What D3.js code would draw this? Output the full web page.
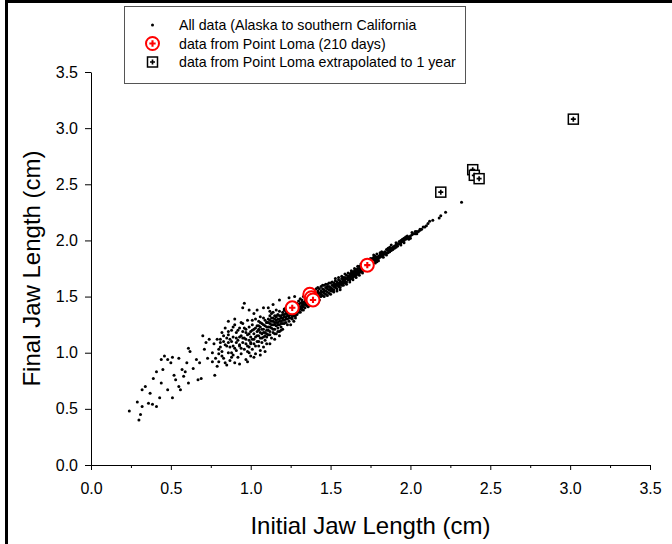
<!DOCTYPE html>
<html>
<head>
<meta charset="utf-8">
<script src="https://cdn.jsdelivr.net/npm/d3@7"></script>
<style>
  html, body { margin: 0; padding: 0; background: #fff; }
  svg { display: block; font-family: Arial, "Liberation Sans", sans-serif; }
</style>
</head>
<body>
<div id="chart"></div>
<script>
// Data: all data (Alaska to southern California), [initial, final] jaw length in cm
const allData = [
  [0.24,0.48],[0.30,0.40],[0.31,0.45],[0.32,0.52],[0.29,0.56],[0.36,0.55],[0.385,0.54],[0.41,0.52],
  [0.32,0.67],[0.34,0.70],[0.37,0.64],[0.39,0.77],[0.41,0.83],[0.43,0.60],[0.44,0.73],[0.45,0.85],
  [0.44,0.94],[0.46,0.97],[0.48,0.94],[0.50,0.91],[0.51,0.60],[0.48,0.67],[0.52,0.80],[0.53,0.76],
  [0.55,0.70],[0.56,0.67],[0.57,0.85],[0.55,0.95],[0.51,0.96],[0.58,0.79],[0.59,0.83],[0.61,0.73],
  [0.60,0.91],[0.62,1.01],[0.61,1.04],[0.64,0.86],[0.66,0.94],[0.68,0.91],[0.67,0.76],[0.69,0.77],
  [0.70,1.15],[0.72,1.09],[0.71,1.03],[0.73,0.95],[0.76,0.92],[0.775,0.80],[0.79,0.88],[0.74,1.12],
  [0.80,1.03],[0.81,1.09],[0.82,0.97],[0.83,1.15],[0.85,1.06],[0.86,1.19],[0.88,1.00],[0.89,1.23],
  [0.91,1.13],[0.93,1.07],[0.94,1.27],[0.96,1.44],[0.99,1.38],[0.97,1.18],[1.00,1.09],[1.01,1.29],
  [1.05,1.21],[1.06,1.32],[1.08,1.40],[1.10,1.27],[1.12,1.37],[1.14,1.43],[1.16,1.32],[1.18,1.47],
  [1.21,1.38],[1.24,1.49],[1.275,1.50],
  [0.80,0.92],[0.81,1.12],[0.82,1.01],[0.82,1.18],[0.83,0.95],[0.84,1.07],[0.84,1.22],[0.85,0.89],
  [0.85,1.13],[0.86,1.00],[0.86,1.16],[0.87,1.05],[0.87,0.93],[0.88,1.20],[0.88,1.10],[0.89,0.98],
  [0.89,1.14],[0.90,1.04],[0.90,1.25],[0.90,0.91],
  [0.91,1.18],[0.91,1.02],[0.92,1.11],[0.92,0.96],[0.93,1.22],[0.93,1.06],[0.94,1.15],[0.94,0.99],
  [0.95,1.09],[0.95,1.26],[0.95,1.19],[0.96,1.03],[0.96,1.13],[0.97,0.94],[0.97,1.21],[0.97,1.08],
  [0.98,1.16],[0.98,1.01],[0.98,1.29],[0.99,1.11],[0.99,1.05],[0.99,1.23],[1.00,1.14],[1.00,0.97],
  [1.00,1.19],[1.00,1.08],
  [1.01,1.12],[1.01,1.25],[1.01,1.03],[1.02,1.17],[1.02,1.21],[1.02,1.08],[1.03,1.14],[1.03,1.30],
  [1.03,0.99],[1.04,1.19],[1.04,1.10],[1.04,1.24],[1.05,1.15],[1.05,1.06],[1.05,1.28],[1.05,1.20],
  [1.06,1.13],[1.06,1.23],[1.06,1.02],[1.07,1.17],[1.07,1.26],[1.07,1.09],[1.08,1.21],[1.08,1.14],
  [1.08,1.31],[1.08,1.05],[1.09,1.18],[1.09,1.24],[1.09,1.11],[1.10,1.20],[1.10,1.27],[1.10,1.14],
  [1.10,1.08],
  [1.11,1.23],[1.11,1.30],[1.11,1.16],[1.12,1.26],[1.12,1.19],[1.12,1.33],[1.13,1.22],[1.13,1.28],
  [1.13,1.13],[1.14,1.25],[1.14,1.31],[1.14,1.18],[1.14,1.36],[1.15,1.27],[1.15,1.21],[1.15,1.33],
  [1.16,1.24],[1.16,1.29],[1.16,1.17],[1.17,1.27],[1.17,1.34],[1.17,1.22],[1.18,1.30],[1.18,1.25],
  [1.18,1.37],[1.18,1.19],[1.19,1.28],[1.19,1.33],[1.19,1.23],[1.20,1.31],[1.20,1.26],[1.20,1.36],
  [1.20,1.21],
  [1.21,1.29],[1.21,1.34],[1.21,1.39],[1.22,1.32],[1.22,1.27],[1.22,1.37],[1.23,1.35],[1.23,1.30],
  [1.23,1.41],[1.24,1.33],[1.24,1.38],[1.24,1.28],[1.25,1.36],[1.25,1.31],[1.25,1.42],[1.26,1.34],
  [1.26,1.39],[1.26,1.30],[1.27,1.37],[1.27,1.43],[1.27,1.33],[1.28,1.40],[1.28,1.35],[1.28,1.31],
  [1.29,1.38],[1.29,1.44],[1.29,1.34],[1.30,1.41],[1.30,1.36],[1.30,1.46],
  [1.31,1.39],[1.31,1.44],[1.31,1.48],[1.32,1.42],[1.32,1.47],[1.32,1.38],[1.33,1.45],[1.33,1.41],
  [1.33,1.50],[1.34,1.43],[1.34,1.48],[1.34,1.40],[1.35,1.46],[1.35,1.51],[1.35,1.42],[1.36,1.45],
  [1.36,1.49],[1.36,1.43],[1.37,1.47],[1.37,1.44],[1.37,1.53],[1.38,1.49],[1.38,1.45],[1.39,1.51],
  [1.39,1.47],[1.39,1.44],[1.40,1.50],[1.40,1.54],[1.40,1.46],
  [1.41,1.49],[1.41,1.53],[1.41,1.57],[1.42,1.51],[1.42,1.55],[1.42,1.48],[1.43,1.53],[1.43,1.57],
  [1.43,1.50],[1.44,1.55],[1.44,1.52],[1.44,1.59],[1.45,1.54],[1.45,1.57],[1.45,1.51],[1.46,1.56],
  [1.46,1.53],[1.46,1.60],[1.47,1.55],[1.47,1.58],[1.47,1.52],[1.48,1.57],[1.48,1.54],[1.48,1.61],
  [1.49,1.56],[1.49,1.59],[1.49,1.53],[1.50,1.58],[1.50,1.55],[1.50,1.62],
  [1.51,1.57],[1.51,1.60],[1.51,1.55],[1.52,1.59],[1.52,1.62],[1.52,1.56],[1.53,1.58],[1.53,1.61],
  [1.53,1.64],[1.54,1.60],[1.54,1.57],[1.54,1.63],[1.55,1.62],[1.55,1.59],[1.55,1.65],[1.56,1.61],
  [1.56,1.64],[1.56,1.58],[1.57,1.63],[1.57,1.66],[1.57,1.60],[1.58,1.64],[1.58,1.62],[1.58,1.67],
  [1.59,1.65],[1.59,1.62],[1.60,1.66],[1.60,1.63],[1.60,1.69],
  [1.61,1.65],[1.61,1.68],[1.62,1.67],[1.62,1.70],[1.62,1.65],[1.63,1.68],[1.63,1.71],[1.64,1.69],
  [1.64,1.67],[1.64,1.72],[1.65,1.70],[1.65,1.73],[1.66,1.71],[1.66,1.69],[1.66,1.74],[1.67,1.72],
  [1.67,1.75],[1.68,1.73],[1.68,1.71],[1.68,1.77],[1.69,1.74],[1.69,1.76],[1.70,1.75],[1.70,1.73],
  [1.70,1.78],
  [1.71,1.76],[1.71,1.79],[1.72,1.77],[1.72,1.80],[1.73,1.78],[1.73,1.76],[1.74,1.80],[1.74,1.82],
  [1.75,1.79],[1.75,1.81],[1.76,1.82],[1.76,1.80],[1.77,1.83],[1.77,1.85],[1.78,1.82],[1.78,1.84],
  [1.79,1.85],[1.79,1.83],[1.80,1.86],[1.80,1.84],
  [1.81,1.87],[1.81,1.85],[1.82,1.88],[1.82,1.86],[1.83,1.89],[1.83,1.87],[1.84,1.90],[1.85,1.89],
  [1.85,1.92],[1.86,1.91],[1.86,1.89],[1.87,1.92],[1.87,1.94],[1.88,1.93],[1.88,1.91],[1.89,1.94],
  [1.90,1.95],[1.90,1.93],
  [1.91,1.96],[1.91,1.94],[1.92,1.97],[1.93,1.97],[1.93,1.99],[1.94,1.98],[1.95,1.99],[1.95,2.01],
  [1.96,2.00],[1.97,2.01],[1.97,2.03],[1.98,2.02],[1.99,2.03],[2.00,2.04],[2.00,2.02],
  [2.01,2.05],[2.02,2.06],[2.03,2.06],[2.04,2.08],[2.05,2.08],[2.06,2.10],[2.07,2.10],[2.08,2.12],
  [2.10,2.13],[2.11,2.15],[2.12,2.17],[2.14,2.18],
  [2.18,2.20],[2.19,2.22],[2.22,2.25],[2.32,2.34],
  [1.30,1.39],[1.32,1.44],[1.34,1.46],[1.36,1.47],[1.38,1.47],[1.40,1.48],[1.42,1.53],[1.44,1.54],
  [1.46,1.55],[1.48,1.59],[1.50,1.57],[1.52,1.60],[1.53,1.59],[1.54,1.61],[1.55,1.60],[1.56,1.62],
  [1.57,1.62],[1.58,1.65],[1.59,1.63],[1.59,1.67],[1.61,1.67],[1.62,1.68],[1.63,1.66],[1.63,1.70],
  [1.64,1.70],[1.65,1.68],[1.65,1.71],[1.66,1.72],[1.67,1.70],[1.67,1.73],[1.68,1.75],[1.69,1.72],
  [1.71,1.74],[1.72,1.78],[1.73,1.81],[1.75,1.77],[1.76,1.84],[1.78,1.86],[1.79,1.81],[1.81,1.89],
  [1.84,1.88],[1.86,1.93],[1.89,1.92],[1.92,1.95],[1.94,2.00],[1.96,2.02],[1.98,2.04],[1.99,2.01],
  [2.03,2.08],[2.06,2.09],[2.09,2.12],
  [1.12,1.29],[1.15,1.25],[1.17,1.30],[1.19,1.26],[1.22,1.35],[1.24,1.36],[1.26,1.37],[1.28,1.38],
  [1.13,1.35],[1.16,1.38],[1.23,1.25],[1.27,1.28],
  [1.02,0.96],[1.06,0.98],[1.09,1.01],[0.93,0.90],[0.98,0.92],[1.12,1.08],[1.15,1.12],[1.18,1.15],
  [1.25,1.25],[0.95,1.40],[1.02,1.35],[1.11,1.40],[1.04,1.38],[0.90,1.30],[0.86,1.28],
  [0.76,1.00],[0.77,1.08],[0.78,0.95],[0.79,1.12],[0.80,0.99],[0.81,1.05],[0.83,1.10],[0.84,0.91],
  [0.86,1.09],[0.87,1.12],[0.88,0.96],[0.89,1.06],[0.91,1.09],[0.92,1.20],[0.93,1.14],[0.94,1.04],
  [0.95,1.13],[0.96,1.22],[0.97,1.12],[0.98,1.06],[0.99,1.17],[0.99,1.00],
  [1.01,1.20],[1.02,1.12],[1.03,1.22],[1.03,1.06],[1.04,1.15],[1.05,1.24],[1.05,1.10],[1.06,1.18],
  [1.06,1.27],[1.07,1.13],[1.07,1.21],[1.08,1.18],[1.08,1.25],[1.09,1.15],[1.09,1.29],[1.10,1.23],
  [1.10,1.17],[1.11,1.20],[1.11,1.27],[1.12,1.23],[1.12,1.16],[1.13,1.25],[1.13,1.31],[1.14,1.21],
  [1.14,1.28],[1.15,1.30],[1.15,1.17],[1.16,1.27],[1.16,1.33],[1.17,1.25],[1.17,1.19],[1.18,1.28],
  [1.18,1.33],[1.19,1.31],[1.19,1.20],[1.20,1.29],[1.20,1.34],
  [1.21,1.32],[1.21,1.26],[1.22,1.30],[1.22,1.40],[1.23,1.33],[1.23,1.38],[1.24,1.31],[1.24,1.41],
  [1.25,1.34],[1.25,1.39],[1.26,1.32],[1.26,1.42],[1.27,1.35],[1.27,1.40],[1.28,1.33],[1.28,1.43],
  [1.29,1.36],[1.29,1.41],[1.30,1.38],[1.30,1.43],[1.31,1.41],[1.31,1.36],[1.32,1.40],[1.32,1.45],
  [1.33,1.43],[1.33,1.38],[1.34,1.45],[1.34,1.50],[1.35,1.44],[1.35,1.48],[1.36,1.41],[1.36,1.51],
  [1.37,1.42],[1.37,1.49],[1.38,1.43],[1.38,1.52],[1.39,1.49],[1.39,1.54],[1.40,1.44],[1.40,1.52],
  [1.41,1.46],[1.42,1.58],[1.43,1.47],[1.44,1.50],[1.45,1.60],[1.46,1.50],[1.47,1.61],[1.48,1.51],
  [1.49,1.62],[1.50,1.52],[1.51,1.63],[1.52,1.54],[1.53,1.66],[1.54,1.55],[1.55,1.67],[1.56,1.56],
  [1.57,1.68],[1.58,1.60],[1.59,1.70],[1.60,1.61],[1.61,1.71],[1.62,1.63],[1.63,1.73],[1.64,1.65],
  [1.65,1.75],[1.66,1.67],[1.67,1.77],[1.68,1.69],[1.69,1.79],[1.70,1.71],[1.71,1.81],[1.72,1.74],
  [1.73,1.83],[1.74,1.77],[1.75,1.84],[1.76,1.78],[1.77,1.87],[1.78,1.80],[1.79,1.88],[1.80,1.82],
  [1.82,1.90],[1.83,1.85],[1.85,1.87],[1.87,1.90],[1.88,1.96],[1.91,1.98],[1.94,1.96],[1.96,1.98],
  [2.01,2.07],[2.04,2.06]
];

// Point Loma, 210 days
const lomaInitial = [1.26, 1.37, 1.38, 1.39, 1.73];
const lomaFinal   = [1.40, 1.52, 1.49, 1.47, 1.78];

// Point Loma extrapolated to 1 year
const yearInitial = [2.19, 2.39, 2.40, 2.43, 3.02];
const yearFinal   = [2.43, 2.63, 2.58, 2.55, 3.08];

const majorTicks = [0, 0.5, 1, 1.5, 2, 2.5, 3, 3.5];
const minorTicks = [0.25, 0.75, 1.25, 1.75, 2.25, 2.75, 3.25];

const legendLabels = [
  "All data (Alaska to southern California",
  "data from Point Loma (210 days)",
  "data from Point Loma extrapolated to 1 year"
];

const width = 672;
const height = 544;
const margin = { top: 72, right: 22, bottom: 79, left: 91 };

const svg = d3.select("#chart")
  .append("svg")
  .attr("width", width)
  .attr("height", height);

// outer frame (only left and top edges show)
svg.append("rect")
  .attr("x", 6.5)
  .attr("y", 1.5)
  .attr("width", 800)
  .attr("height", 700)
  .attr("fill", "none")
  .attr("stroke", "#000")
  .attr("stroke-width", 3);

const x = d3.scaleLinear()
  .domain([0, 3.5])
  .range([margin.left, width - margin.right]);

const y = d3.scaleLinear()
  .domain([0, 3.5])
  .range([height - margin.bottom, margin.top]);

// Axes
svg.append("g")
  .attr("transform", `translate(0,${height - margin.bottom})`)
  .call(d3.axisBottom(x).tickValues(majorTicks).tickFormat(d3.format(".1f"))
    .tickSize(5).tickSizeOuter(0).tickPadding(13));

svg.append("g")
  .attr("transform", `translate(0,${height - margin.bottom})`)
  .call(d3.axisBottom(x).tickValues(minorTicks).tickFormat("").tickSize(3).tickSizeOuter(0))
  .call(g => g.select(".domain").remove());

svg.append("g")
  .attr("transform", `translate(${margin.left},0)`)
  .call(d3.axisLeft(y).tickValues(majorTicks).tickFormat(d3.format(".1f"))
    .tickSize(6).tickSizeOuter(0).tickPadding(7));

svg.selectAll(".tick text")
  .style("font-size", "16px")
  .style("font-family", "Arial, 'Liberation Sans', sans-serif")
  .attr("fill", "#000");
svg.selectAll(".tick line, .domain").attr("stroke", "#000");

// Axis titles
svg.append("text")
  .attr("x", (margin.left + width - margin.right) / 2)
  .attr("y", 534)
  .attr("text-anchor", "middle")
  .style("font-size", "24px")
  .text("Initial Jaw Length (cm)");

svg.append("text")
  .attr("transform", `translate(40,${(margin.top + height - margin.bottom) / 2}) rotate(-90)`)
  .attr("text-anchor", "middle")
  .style("font-size", "24px")
  .text("Final Jaw Length (cm)");

// Marker helpers
const cross = d3.symbol().type(d3.symbolCross);

function redMarker(g) {
  g.append("circle")
    .attr("r", 6.5)
    .attr("fill", "#fff")
    .attr("stroke", "#ff0000")
    .attr("stroke-width", 2);
  g.append("path")
    .attr("d", cross.size(22)())
    .attr("fill", "#ff0000");
}

function squareMarker(g) {
  g.append("rect")
    .attr("x", -5)
    .attr("y", -5)
    .attr("width", 10)
    .attr("height", 10)
    .attr("fill", "#fff")
    .attr("stroke", "#000")
    .attr("stroke-width", 1.5);
  g.append("path")
    .attr("d", cross.size(14)())
    .attr("fill", "#000");
}

// All data dots
svg.append("g")
  .selectAll("circle")
  .data(allData)
  .join("circle")
  .attr("cx", d => x(d[0]))
  .attr("cy", d => y(d[1]))
  .attr("r", 1.5)
  .attr("fill", "#000");

// Point Loma (210 days)
svg.append("g")
  .selectAll("g")
  .data(lomaInitial.map((v, i) => [v, lomaFinal[i]]))
  .join("g")
  .attr("transform", d => `translate(${x(d[0])},${y(d[1])})`)
  .each(function() { redMarker(d3.select(this)); });

// Extrapolated to 1 year
svg.append("g")
  .selectAll("g")
  .data(yearInitial.map((v, i) => [v, yearFinal[i]]))
  .join("g")
  .attr("transform", d => `translate(${x(d[0])},${y(d[1])})`)
  .each(function() { squareMarker(d3.select(this)); });

// Legend
const legend = svg.append("g");

legend.append("rect")
  .attr("x", 124.5)
  .attr("y", 6.5)
  .attr("width", 341)
  .attr("height", 77)
  .attr("fill", "#fff")
  .attr("stroke", "#555")
  .attr("stroke-width", 1);

const rowY = [25, 43.5, 62];

legend.append("circle")
  .attr("cx", 152.5).attr("cy", rowY[0])
  .attr("r", 1.5)
  .attr("fill", "#000");
redMarker(legend.append("g").attr("transform", `translate(152.5,${rowY[1]})`));
squareMarker(legend.append("g").attr("transform", `translate(152.5,${rowY[2]})`));

legend.selectAll(".legend-label")
  .data(legendLabels)
  .join("text")
  .attr("class", "legend-label")
  .attr("x", 179)
  .attr("y", (d, i) => rowY[i] + 5)
  .style("font-size", "14.2px")
  .attr("fill", "#000")
  .text(d => d);
</script>
</body>
</html>
